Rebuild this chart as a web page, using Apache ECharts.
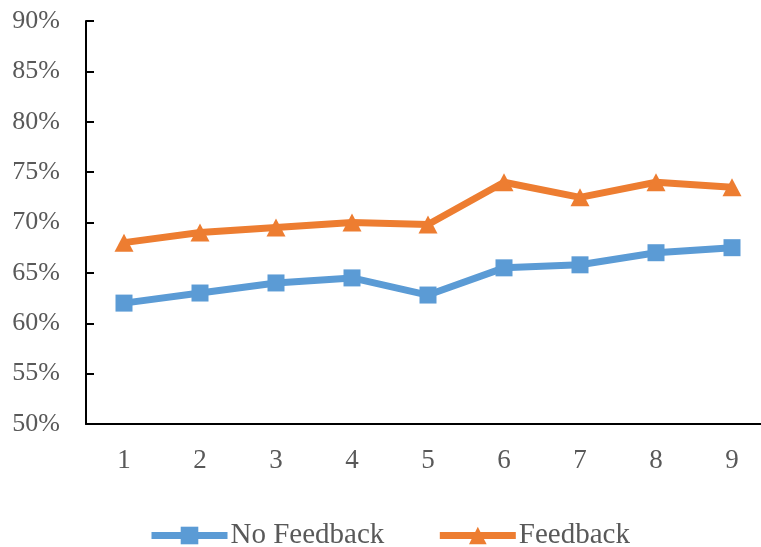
<!DOCTYPE html>
<html>
<head>
<meta charset="utf-8">
<script src="https://cdn.jsdelivr.net/npm/echarts@6/dist/echarts.min.js"></script>
<style>
  html, body { margin: 0; padding: 0; background: #fff; overflow: hidden; }
  #chart { width: 761px; height: 547px; }
</style>
</head>
<body>
<div id="chart"></div>
<script>
// Trial numbers along the x axis
const categories = ['1', '2', '3', '4', '5', '6', '7', '8', '9'];
// Accuracy (%) per trial
const noFeedback = [62.0, 63.0, 64.0, 64.5, 62.8, 65.5, 65.8, 67.0, 67.5];
const feedback = [68.0, 69.0, 69.5, 70.0, 69.8, 74.0, 72.5, 74.0, 73.5];
const seriesNames = ['No Feedback', 'Feedback'];

const textFont = '"Liberation Serif", "DejaVu Serif", serif';
const textColor = '#595959';
const axisColor = '#000';

const chart = echarts.init(document.getElementById('chart'));
chart.setOption({
  animation: false,
  backgroundColor: '#fff',
  // the plot runs slightly past the right edge of the canvas
  grid: { left: 86, width: 684, top: 21, height: 403, outerBoundsMode: 'none', containLabel: false },
  legend: {
    top: 521,
    left: 148,
    padding: 0,
    itemWidth: 76,
    itemHeight: 22,
    itemGap: 52,
    lineStyle: { width: 7 },
    textStyle: { fontFamily: textFont, fontSize: 29, color: textColor, padding: [0, 0, 0, -2] },
    data: seriesNames
  },
  xAxis: {
    type: 'category',
    data: categories,
    boundaryGap: true,
    axisLine: { lineStyle: { color: axisColor, width: 2 } },
    axisTick: { inside: true, length: 8, lineStyle: { color: axisColor, width: 2 } },
    axisLabel: { fontFamily: textFont, fontSize: 27, color: textColor, margin: 23 },
    splitLine: { show: false }
  },
  yAxis: {
    type: 'value',
    min: 50,
    max: 90,
    interval: 5,
    axisLine: { show: true, lineStyle: { color: axisColor, width: 2 } },
    axisTick: { show: true, inside: true, length: 8, lineStyle: { color: axisColor, width: 2 } },
    axisLabel: { fontFamily: textFont, fontSize: 26, color: textColor, margin: 26, formatter: '{value}%' },
    splitLine: { show: false }
  },
  series: [
    {
      name: seriesNames[0],
      type: 'line',
      data: noFeedback,
      symbol: 'rect',
      symbolSize: 17,
      color: '#5B9BD5',
      lineStyle: { width: 7, color: '#5B9BD5' },
      itemStyle: { color: '#5B9BD5' }
    },
    {
      name: seriesNames[1],
      type: 'line',
      data: feedback,
      symbol: 'triangle',
      symbolSize: [19, 18],
      color: '#ED7D31',
      lineStyle: { width: 7, color: '#ED7D31' },
      itemStyle: { color: '#ED7D31' }
    }
  ]
});
</script>
</body>
</html>
